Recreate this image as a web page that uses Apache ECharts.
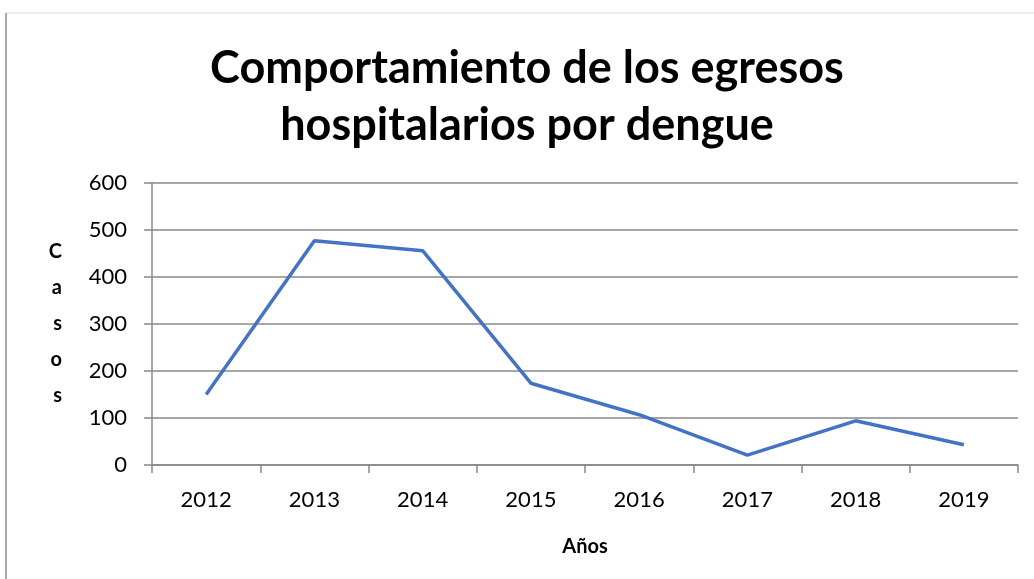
<!DOCTYPE html>
<html>
<head>
<meta charset="utf-8">
<script src="https://cdn.jsdelivr.net/npm/echarts@6/dist/echarts.min.js"></script>
<style>html,body{margin:0;padding:0;background:#fff;}#c{width:1034px;height:579px;}</style>
</head>
<body>
<div id="c"></div>
<script>
const titleLines = ['Comportamiento de los egresos', 'hospitalarios por dengue'];
const years = ['2012', '2013', '2014', '2015', '2016', '2017', '2018', '2019'];
const casos = [150, 477, 456, 174, 107, 21, 94, 43];
const yTicks = { min: 0, max: 600, interval: 100 };
const xName = 'Años';
const yName = 'Casos';

const FONT = 'Lato, "Open Sans", sans-serif';
const chart = echarts.init(document.getElementById('c'), null, { renderer: 'canvas' });
chart.setOption({
  backgroundColor: '#fff',
  animation: false,
  graphic: [
    { type: 'line', shape: { x1: 6, y1: 13, x2: 1034, y2: 13 }, style: { stroke: '#d9d9d9', lineWidth: 1 } },
    { type: 'line', shape: { x1: 6, y1: 13, x2: 6, y2: 579 }, style: { stroke: '#8c8c8c', lineWidth: 1.5 } },
    { type: 'text', x: 527, y: 40, style: { text: titleLines.join('\n'), font: 'bold 45px ' + FONT, lineHeight: 57, textAlign: 'center', textVerticalAlign: 'top', fill: '#000' } }
  ],
  grid: { left: 152, right: 16, top: 183, bottom: 114, containLabel: false },
  xAxis: {
    type: 'category',
    data: years,
    boundaryGap: true,
    name: xName,
    nameLocation: 'middle',
    nameGap: 72,
    nameTextStyle: { fontFamily: FONT, fontWeight: 'bold', fontSize: 20, color: '#000' },
    axisLine: { lineStyle: { color: '#888', width: 1.5 } },
    axisTick: { show: true, length: 8, lineStyle: { color: '#888', width: 1.5 } },
    axisLabel: { fontFamily: FONT, fontSize: 22, color: '#000', margin: 24 },
    splitLine: { show: false }
  },
  yAxis: {
    type: 'value',
    min: yTicks.min, max: yTicks.max, interval: yTicks.interval,
    name: yName.split('').join('\n'),
    nameLocation: 'middle',
    nameRotate: 0,
    nameGap: 90,
    nameTextStyle: { fontFamily: FONT, fontWeight: 'bold', fontSize: 20, lineHeight: 36, color: '#000', padding: [14, 0, 0, 0] },
    axisLine: { show: true, lineStyle: { color: '#888', width: 1.5 } },
    axisTick: { show: true, length: 8, lineStyle: { color: '#888', width: 1.5 } },
    axisLabel: { fontFamily: FONT, fontSize: 22, color: '#000', margin: 25 },
    splitLine: { show: true, lineStyle: { color: '#888', width: 1.5 } }
  },
  series: [{
    type: 'line',
    data: casos,
    symbol: 'none',
    lineStyle: { color: '#4472C4', width: 3.5 },
    itemStyle: { color: '#4472C4' }
  }]
});
</script>
</body>
</html>
